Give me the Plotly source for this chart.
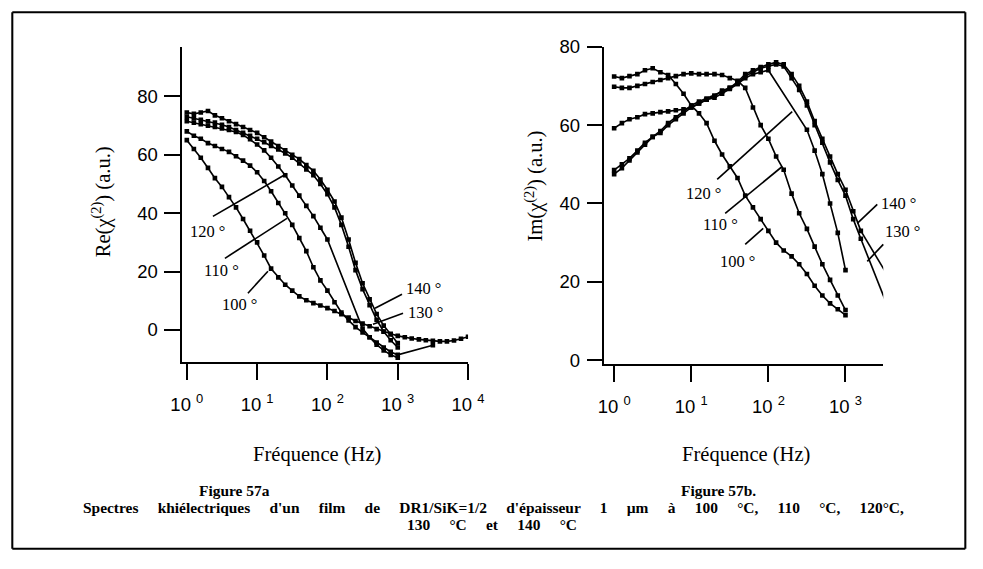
import plotly.graph_objects as go

W, H = 983, 569

# ---------------- data (frequency in Hz, values in a.u.) ----------------
f_base = [1.0, 1.26, 1.58, 2.0, 2.51, 3.16, 3.98, 5.01, 6.31, 7.94,
          10, 12.6, 15.8, 20, 25.1, 31.6, 39.8, 50.1, 63.1, 79.4,
          100, 126, 158, 200, 251, 316, 398, 501, 631, 794, 1000]
f_hi = [1260, 1580, 2000, 2510, 3160, 3980, 5010, 6310, 7940, 10000]

# Figure 57a : Re(chi2)
re_100_f = f_base + f_hi
re_100 = [65, 62, 59, 55.5, 52, 49, 45.5, 42, 38, 34,
          30, 25.5, 21, 18, 15.5, 13.5, 11.5, 10.2, 9.2, 8.4,
          7.5, 6.5, 5.4, 4.3, 3.1, 2.2, 1.3, 0.3, -0.6, -1.3,
          -2.0, -2.5, -2.9, -3.2, -3.5, -3.7, -3.9, -3.9, -3.6, -3.0, -2.3]
re_110_f = f_base + [3160]
re_110 = [68, 66.5, 65.5, 64, 63, 62, 61, 59.5, 58, 56.3,
          54, 51, 47.5, 43.5, 40, 36, 31.5, 27, 21.5, 17,
          13.5, 9.5, 6, 3.3, 1, -0.8, -2.5, -4.3, -6, -7.5, -8.5, -5.2]
re_120_f = [1.0, 1.26, 1.58, 2.0, 2.51, 3.16, 3.98, 5.01, 6.31, 7.94,
            10, 12.6, 15.8, 20, 25.1, 31.6, 39.8, 50.1, 63.1, 79.4,
            100, 316, 398, 501, 631, 794, 1000]
re_120 = [71.5, 71, 70.5, 70, 69.5, 69, 68.5, 67.8, 66.8, 65.3,
          63.5, 61.5, 59, 56, 53, 49.5, 46, 42.5, 39, 35,
          31, 0.5, -2.5, -5, -7, -8.5, -9.5]
re_130_f = f_base
re_130 = [73, 72.5, 72, 71.5, 71, 70.3, 69.5, 68.5, 67.5, 66.5,
          65.5, 64.3, 63, 61.8, 60.5, 59, 57, 55, 53, 50,
          46.5, 42, 36, 28.5, 20.5, 14, 8.5, 3.5, -0.5, -3.5, -6]
re_140_f = f_base
re_140 = [74.5, 74, 74.5, 75, 73.5, 72.5, 71.5, 70.5, 69.5, 68.5,
          67.5, 66, 64.5, 63, 61.5, 60, 58.5, 56.5, 54.5, 51.5,
          48, 44, 38.5, 31, 23, 16, 10.5, 5.5, 1.5, -1.5, -4.5]

# Figure 57b : Im(chi2)
im_100_f = f_base
im_100 = [72.4, 72, 72.5, 73, 74, 74.5, 73.5, 72.8, 70.5, 68,
          65, 63, 60.5, 56, 52.5, 49.5, 46.5, 42, 39, 36,
          33, 30, 28, 26.5, 24.5, 22, 19, 16.5, 14.5, 13, 11.5]
im_110_f = f_base
im_110 = [69.8, 69.5, 69.5, 70, 70.5, 71, 71.5, 72, 72.5, 73,
          73.2, 73, 73, 73, 72.8, 72, 71.3, 69.5, 64.5, 60,
          56.5, 52, 48.6, 42.5, 37.5, 33.5, 29, 24.5, 20.5, 16.5, 12.8]
im_120_f = [1.0, 1.26, 1.58, 2.0, 2.51, 3.16, 3.98, 5.01, 6.31, 7.94,
            10, 12.6, 15.8, 20, 25.1, 31.6, 39.8, 50.1, 63.1, 79.4,
            100, 316, 398, 501, 631, 794, 1000]
im_120 = [59.2, 60.5, 61.5, 62, 62.8, 63, 63.3, 63.5, 63.8, 64,
          64.5, 65.5, 66.5, 67.5, 68.8, 69.5, 70.5, 72, 73, 73.5,
          74, 58.8, 53.5, 47.5, 40, 32.5, 23]
im_130_f = f_base + [1260, 1580]
im_130 = [48.5, 50, 51.5, 53.5, 55.5, 57, 58, 60, 61.5, 63,
          64.5, 65.5, 66.5, 67, 68, 69.2, 70.5, 72.5, 73.5, 74.5,
          75, 75.5, 75, 72, 69, 65, 60, 55.5, 50.5, 46, 42, 36, 31]
im_130_tail_f = [1580, 3470]
im_130_tail = [31, 14]
im_140_f = f_base + [1260, 1580]
im_140 = [47.5, 49, 51, 53, 55, 57, 58.5, 60.5, 62, 63.5,
          65, 66, 66.8, 67.5, 68.5, 69.5, 71, 73, 74, 74.8,
          75.5, 76, 75.5, 73, 70, 66, 61, 56.5, 52, 47.5, 43.5, 38, 33]
im_140_tail_f = [1580, 3470]
im_140_tail = [33, 21.8]

x_ticks_a = [1, 10, 100, 1000, 10000]
x_ticks_b = [1, 10, 100, 1000]
x_text_a = ["10 <sup>0</sup>", "10 <sup>1</sup>", "10 <sup>2</sup>", "10 <sup>3</sup>", "10 <sup>4</sup>"]
x_text_b = ["10 <sup>0</sup>", "10 <sup>1</sup>", "10 <sup>2</sup>", "10 <sup>3</sup>"]
y_ticks = [0, 20, 40, 60, 80]

# ---------------- layout helpers ----------------
# the photographed page is shown slightly reduced and offset; positions below are
# given in picture pixels and mapped back to page fractions
S, OX, OY = 0.972, 11.2, 9.2

def px(x):
    return ((x - OX) / S) / W

def py(y):
    return 1 - ((y - OY) / S) / H

def sz(v):
    return v / S

fig = go.Figure()

def add(fx, fy, xa, ya, markers=True):
    fig.add_trace(go.Scatter(
        x=fx, y=fy, xaxis=xa, yaxis=ya,
        mode="lines+markers" if markers else "lines",
        line=dict(color="black", width=sz(1.6)),
        marker=dict(symbol="square", size=sz(4.5), color="black"),
        showlegend=False, hoverinfo="skip"))

for fx, fy in [(re_100_f, re_100), (re_110_f, re_110), (re_120_f, re_120),
               (re_130_f, re_130), (re_140_f, re_140)]:
    add(fx, fy, "x", "y")
for fx, fy in [(im_100_f, im_100), (im_110_f, im_110), (im_120_f, im_120),
               (im_130_f, im_130), (im_140_f, im_140)]:
    add(fx, fy, "x2", "y2")
add(im_130_tail_f, im_130_tail, "x2", "y2", markers=False)
add(im_140_tail_f, im_140_tail, "x2", "y2", markers=False)

tickfont = dict(family="Liberation Sans, Arial, sans-serif", size=sz(18), color="black")
common = dict(showline=True, linewidth=sz(2), linecolor="black", ticks="outside",
              ticklen=sz(15), tickwidth=sz(2), tickcolor="black", showgrid=False,
              zeroline=False, tickfont=tickfont)

fig.update_layout(
    width=W, height=H,
    margin=dict(l=0, r=0, t=0, b=0, pad=0),
    paper_bgcolor="white", plot_bgcolor="white",
    xaxis=dict(domain=[px(182), px(468)], anchor="y", type="log",
               range=[-0.07, 4.0], tickvals=x_ticks_a, ticktext=x_text_a,
               ticklabelstandoff=9, **common),
    yaxis=dict(domain=[py(361), py(45)], anchor="x", range=[-11, 97],
               tickvals=y_ticks, ticklabelstandoff=3, **common),
    xaxis2=dict(domain=[px(604), px(883)], anchor="y2", type="log",
                range=[-0.13, 3.49], tickvals=x_ticks_b, ticktext=x_text_b,
                ticklabelstandoff=9, **common),
    yaxis2=dict(domain=[py(363), py(45)], anchor="x2", range=[-1, 80],
                tickvals=y_ticks, ticklabelstandoff=3, **common),
)

serif = "Liberation Serif, Times New Roman, serif"
anns = []

def txt(x, y, s, size=16, angle=0, xanchor="center"):
    anns.append(dict(x=px(x), y=py(y), xref="paper", yref="paper", text=s,
                     showarrow=False, textangle=angle, xanchor=xanchor, yanchor="middle",
                     font=dict(family=serif, size=sz(size), color="black")))

# axis titles
txt(102, 200, "Re(χ<sup>(2)</sup>) (a.u.)", size=20, angle=-90)
txt(534, 185, "Im(χ<sup>(2)</sup>) (a.u.)", size=20, angle=-90)
txt(317, 454, "Fréquence (Hz)", size=20)
txt(746, 454, "Fréquence (Hz)", size=20)

# curve labels
for (x, y, s) in [(208, 230, "120 °"), (222, 269, "110 °"), (240, 303, "100 °"),
                  (423, 287, "140 °"), (425, 311, "130 °"),
                  (703, 192, "120 °"), (720, 223, "110 °"), (737, 260, "100 °"),
                  (898, 202, "140 °"), (902, 230, "130 °")]:
    txt(x, y, s, size=16)

# captions
G = "     "
txt(235, 490, "<b>Figure 57a</b>", size=15)
txt(718, 490, "<b>Figure 57b.</b>", size=15)
cap2 = G.join(["Spectres", "khiélectriques", "d'un", "film", "de", "DR1/SiK=1/2",
               "d'épaisseur", "1", "µm", "à", "100", "°C,", "110", "°C,", "120°C,"])
cap3 = G.join(["130", "°C", "et", "140", "°C"])
txt(493, 507, "<b>" + cap2 + "</b>", size=15)
txt(492, 524, "<b>" + cap3 + "</b>", size=15)

fig.update_layout(annotations=anns)

shapes = []

def seg(x0, y0, x1, y1, w=1.6):
    shapes.append(dict(type="line", xref="paper", yref="paper",
                       x0=px(x0), y0=py(y0), x1=px(x1), y1=py(y1),
                       line=dict(color="black", width=sz(w))))

# leader lines
seg(213, 215, 287, 172)
seg(225, 257, 287, 217)
seg(248, 292, 268, 270)
seg(375, 307, 402, 293)
seg(373, 323, 403, 312)
seg(717, 178, 792, 110)
seg(725, 212, 782, 165)
seg(745, 243, 763, 227)
seg(857, 222, 877, 203)
seg(867, 260, 883, 243)

# page frame (kept just inside the page)
seg(12.5, 10.5, 965, 10.5, 2)
seg(12.5, 10.5, 12.5, 548, 2)
seg(965, 10.5, 965, 548, 2)
seg(12.5, 548, 965, 548, 2)

fig.update_layout(shapes=shapes)

fig.write_html(
    "out.html",
    config={"displayModeBar": False},
    post_script="document.body.style.margin='0';document.body.style.padding='0';"
                "document.documentElement.style.overflow='hidden';document.body.style.overflow='hidden';",
)
